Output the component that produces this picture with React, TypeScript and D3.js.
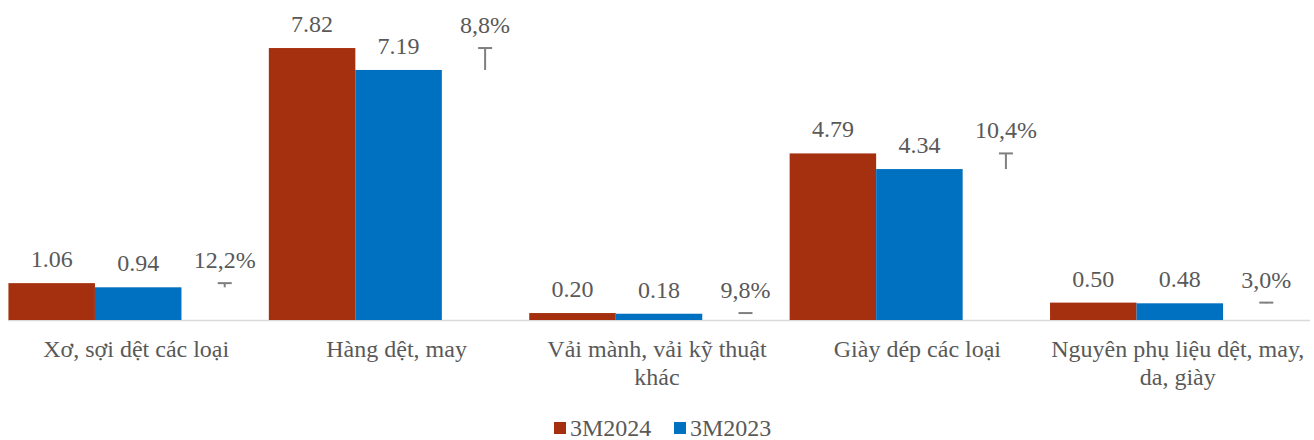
import React, { useEffect, useRef } from "react";
import * as d3 from "d3";

// data
const categories = [
  "Xơ, sợi dệt các loại",
  "Hàng dệt, may",
  "Vải mành, vải kỹ thuật\nkhác",
  "Giày dép các loại",
  "Nguyên phụ liệu dệt, may,\nda, giày",
];
const values2024 = [1.06, 7.82, 0.2, 4.79, 0.5];
const values2023 = [0.94, 7.19, 0.18, 4.34, 0.48];
const growth = ["12,2%", "8,8%", "9,8%", "10,4%", "3,0%"];
const seriesNames = ["3M2024", "3M2023"];
const seriesColors = ["#A5300F", "#0070C0"];

const W = 1314;
const H = 440;
const FONT = "Liberation Serif, Times New Roman, serif";
const TEXT = "#595959";
const FS = 24;

const App = () => {
  const svgRef = useRef<SVGSVGElement>(null);

  useEffect(() => {
    const svg = d3.select(svgRef.current);
    svg.selectAll("*").remove();

    const x = d3.scaleBand().domain(categories).range([8, 1310]).paddingInner(0).paddingOuter(0);
    const sub = d3.scaleBand().domain(["a", "b", "c"]).range([0, x.bandwidth()]).paddingInner(0).paddingOuter(0.005);
    const y = d3.scaleLinear().domain([0, 9]).range([320, 7]);

    // baseline
    svg.append("line")
      .attr("x1", 8).attr("x2", 1310)
      .attr("y1", y(0) + 0.5).attr("y2", y(0) + 0.5)
      .attr("stroke", "#d9d9d9").attr("stroke-width", 1.5);

    const g = svg.append("g");
    [values2024, values2023].forEach((vals, si) => {
      const key = si === 0 ? "a" : "b";
      g.selectAll(`.bar${si}`)
        .data(vals)
        .enter().append("rect")
        .attr("x", (d, i) => x(categories[i])! + sub(key)!)
        .attr("width", sub.bandwidth())
        .attr("y", d => y(d))
        .attr("height", d => y(0) - y(d))
        .attr("fill", seriesColors[si]);

      g.selectAll(`.lbl${si}`)
        .data(vals)
        .enter().append("text")
        .attr("x", (d, i) => x(categories[i])! + sub(key)! + sub.bandwidth() / 2)
        .attr("y", d => y(d) - 16)
        .attr("text-anchor", "middle")
        .attr("fill", TEXT)
        .attr("font-family", FONT)
        .attr("font-size", FS)
        .text(d => d.toFixed(2));
    });

    // growth: high-low line between the two years
    categories.forEach((c, i) => {
      const cx = x(c)! + sub("c")! + sub.bandwidth() / 2;
      const hi = y(values2024[i]);
      const lo = y(values2023[i]);
      g.append("line")
        .attr("x1", cx).attr("x2", cx)
        .attr("y1", hi).attr("y2", lo)
        .attr("stroke", "#7f7f7f").attr("stroke-width", 2);
      g.append("line")
        .attr("x1", cx - 7).attr("x2", cx + 7)
        .attr("y1", hi).attr("y2", hi)
        .attr("stroke", "#7f7f7f").attr("stroke-width", 2);
      g.append("text")
        .attr("x", cx)
        .attr("y", hi - 15)
        .attr("text-anchor", "middle")
        .attr("fill", TEXT)
        .attr("font-family", FONT)
        .attr("font-size", FS)
        .text(growth[i]);
    });

    // category labels
    categories.forEach(c => {
      const t = svg.append("text")
        .attr("text-anchor", "middle")
        .attr("fill", TEXT)
        .attr("font-family", FONT)
        .attr("font-size", FS);
      c.split("\n").forEach((line, li) => {
        t.append("tspan")
          .attr("x", x(c)! + x.bandwidth() / 2 - 2)
          .attr("y", 357 + li * 28)
          .text(line);
      });
    });

    // legend
    const leg = svg.append("g");
    const legX = [554, 674];
    seriesNames.forEach((s, i) => {
      leg.append("rect")
        .attr("x", legX[i]).attr("y", 422)
        .attr("width", 12).attr("height", 12)
        .attr("fill", seriesColors[i]);
      leg.append("text")
        .attr("x", legX[i] + 16).attr("y", 436)
        .attr("fill", TEXT)
        .attr("font-family", FONT)
        .attr("font-size", FS)
        .text(s);
    });
  }, []);

  return (
    <svg ref={svgRef} width={W} height={H} style={{ position: "absolute", left: 0, top: 0, background: "#fff" }} />
  );
};

export default App;
